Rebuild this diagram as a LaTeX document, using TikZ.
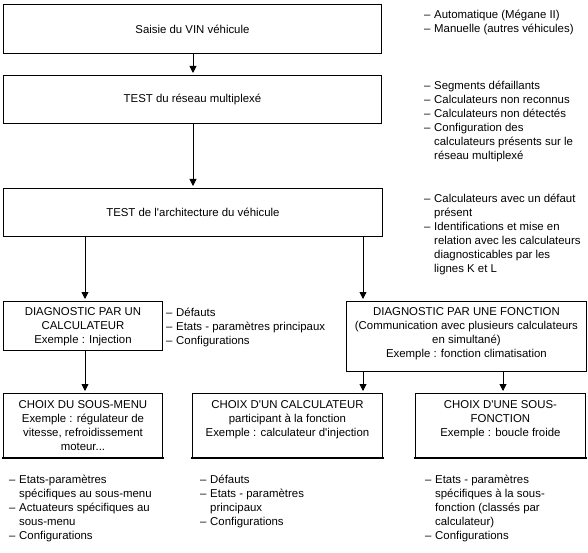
\documentclass[tikz,border=0pt]{standalone}
\usepackage{fontspec}
\setmainfont{Liberation Sans}
\usetikzlibrary{arrows.meta}
\newcommand{\dashitem}{\makebox[10pt][l]{–}}
\newcommand{\cont}{\hspace*{10pt}}
\newcommand{\apo}{\textquotesingle}
\begin{document}
\begin{tikzpicture}[x=1pt,y=-1pt,
  every node/.style={font=\fontsize{11.4}{14}\selectfont, inner sep=0pt},
  box/.style={draw, line width=0.9pt, anchor=north west},
  boxtext/.style={anchor=north, align=center},
  notes/.style={anchor=north west, align=left},
  arr/.style={line width=0.9pt, -{Triangle[width=7pt,length=7pt]}, shorten >=2pt},
  thickbottom/.style={line width=2.4pt}]
\useasboundingbox (0,0) rectangle (588,553);

% boxes
\node[box, minimum width=378pt, minimum height=49pt] (b1) at (3,4) {};
\node (t1) at (b1.center) {Saisie du VIN véhicule};
\node[box, minimum width=378pt, minimum height=48pt] (b2) at (3,75) {};
\node (t2) at (b2.center) {TEST du réseau multiplexé};
\node[box, minimum width=379pt, minimum height=48pt] (b3) at (3,188) {};
\node (t3) at (b3.center) {TEST de l\apo architecture du véhicule};

\node[box, minimum width=159pt, minimum height=49pt] (b4) at (3,301) {};
\node[boxtext] (t4) at ([yshift=-4.5pt]b4.north) {\strut DIAGNOSTIC PAR UN\\CALCULATEUR\\Exemple : Injection};
\node[box, minimum width=240pt, minimum height=70pt] (b5) at (346,301) {};
\node[boxtext] (t5) at ([yshift=-4.5pt]b5.north) {\strut DIAGNOSTIC PAR UNE FONCTION\\(Communication avec plusieurs calculateurs\\en simultané)\\Exemple : fonction climatisation};

\node[box, minimum width=159pt, minimum height=64pt] (b6) at (3,393) {};
\node[boxtext] (t6) at ([yshift=-5pt]b6.north) {\strut CHOIX DU SOUS-MENU\\Exemple : régulateur de\\vitesse, refroidissement\\moteur...};
\node[box, minimum width=190pt, minimum height=64pt] (b7) at (192,393) {};
\node[boxtext] (t7) at ([yshift=-5pt]b7.north) {\strut CHOIX D\apo UN CALCULATEUR\\participant à la fonction\\Exemple : calculateur d\apo injection};
\node[box, minimum width=170pt, minimum height=64pt] (b8) at (415,393) {};
\node[boxtext] (t8) at ([yshift=-5pt]b8.north) {\strut CHOIX D\apo UNE SOUS-\\FONCTION\\Exemple : boucle froide};

% thicker bottom edges
\draw[thickbottom] ([xshift=-1pt]b6.south west) -- ([xshift=1pt]b6.south east);
\draw[thickbottom] ([xshift=-1pt]b7.south west) -- ([xshift=1pt]b7.south east);
\draw[thickbottom] ([xshift=-1pt]b8.south west) -- ([xshift=1pt]b8.south east);

% connectors
\draw[arr] (b1.south -| 193,0) -- (b2.north -| 193,0);
\draw[arr] (b2.south -| 193,0) -- (b3.north -| 193,0);
\draw[arr] (b3.south -| 85,0) -- (b4.north -| 85,0);
\draw[arr] (b3.south -| 363,0) -- (b5.north -| 363,0);
\draw[arr] (b4.south -| 85,0) -- (b6.north -| 85,0);
\draw[arr] (b5.south -| 363,0) -- (b7.north -| 363,0);
\draw[arr] (b5.south -| 503,0) -- (b8.north -| 503,0);

% notes
\node[notes] (n1) at (424,9) {\strut\dashitem Automatique (Mégane II)\\\dashitem Manuelle (autres véhicules)};
\node[notes] (n2) at (424,80) {\strut\dashitem Segments défaillants\\\dashitem Calculateurs non reconnus\\\dashitem Calculateurs non détectés\\\dashitem Configuration des\\\cont calculateurs présents sur le\\\cont réseau multiplexé};
\node[notes] (n3) at (424,192) {\strut\dashitem Calculateurs avec un défaut\\\cont présent\\\dashitem Identifications et mise en\\\cont relation avec les calculateurs\\\cont diagnosticables par les\\\cont lignes K et L};
\node[notes] (n4) at (166,306) {\strut\dashitem Défauts\\\dashitem Etats - paramètres principaux\\\dashitem Configurations};
\node[notes] (n6) at (9,473) {\strut\dashitem Etats-paramètres\\\cont spécifiques au sous-menu\\\dashitem Actuateurs spécifiques au\\\cont sous-menu\\\dashitem Configurations};
\node[notes] (n7) at (200,473) {\strut\dashitem Défauts\\\dashitem Etats - paramètres\\\cont principaux\\\dashitem Configurations};
\node[notes] (n8) at (425,473) {\strut\dashitem Etats - paramètres\\\cont spécifiques à la sous-\\\cont fonction (classés par\\\cont calculateur)\\\dashitem Configurations};
\end{tikzpicture}
\end{document}
